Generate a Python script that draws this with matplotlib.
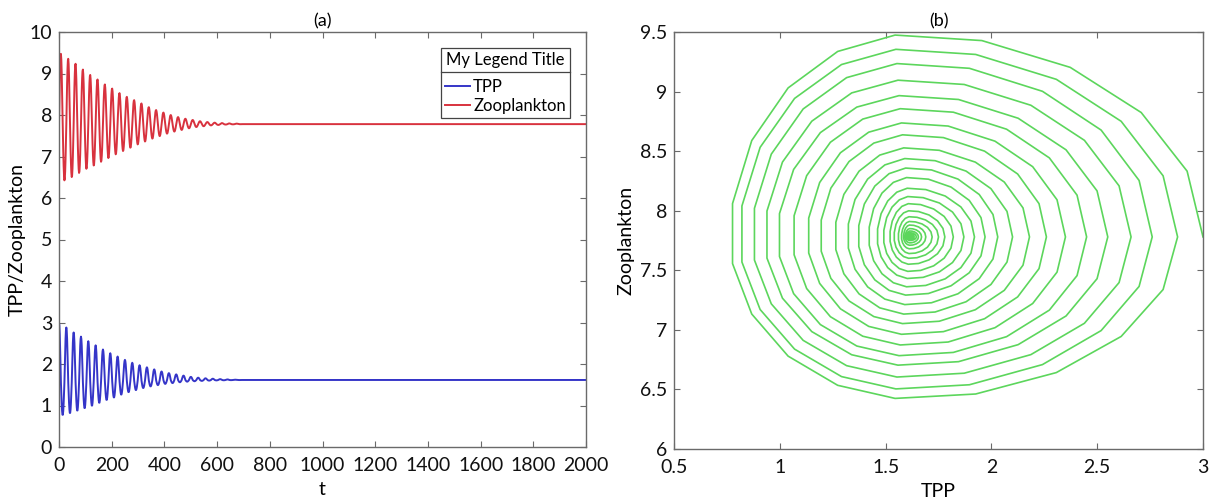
import numpy as np
import matplotlib
matplotlib.use('Agg')
import matplotlib.pyplot as plt
from matplotlib.lines import Line2D
from matplotlib.ticker import FormatStrFormatter

plt.rcParams['font.family'] = ['Lato', 'DejaVu Sans']

# Values.
# Oscillation period (time units) and equilibrium levels.
period = 27.8
t_end = 2000
tpp_eq = 1.615
zoo_eq = 7.78

# Extremes of each cycle (TPP maxima has one extra entry: start of the next cycle)
tpp_peaks = [3.0, 2.88, 2.76, 2.66, 2.55, 2.45, 2.35, 2.26, 2.18, 2.10, 2.03, 1.97, 1.92,
             1.87, 1.82, 1.78, 1.75, 1.72, 1.69, 1.67, 1.655, 1.645, 1.635, 1.628, 1.622, 1.618]
tpp_troughs = [0.765, 0.81, 0.87, 0.93, 0.99, 1.06, 1.13, 1.19, 1.26, 1.32, 1.37, 1.42, 1.46,
               1.49, 1.52, 1.54, 1.56, 1.575, 1.585, 1.593, 1.60, 1.605, 1.608, 1.611, 1.613]
zoo_peaks = [9.48, 9.36, 9.24, 9.10, 8.97, 8.86, 8.74, 8.64, 8.53, 8.44, 8.36, 8.28, 8.19,
             8.12, 8.06, 8.00, 7.95, 7.91, 7.88, 7.85, 7.83, 7.815, 7.805, 7.797, 7.792]
zoo_troughs = [6.42, 6.50, 6.60, 6.70, 6.78, 6.87, 6.96, 7.05, 7.13, 7.21, 7.29, 7.36, 7.43,
               7.49, 7.55, 7.60, 7.64, 7.68, 7.71, 7.73, 7.75, 7.76, 7.77, 7.775, 7.778]

# samples per cycle of the solver output (vertices visible in the phase plot)
steps = 19

# Build the trajectory cycle by cycle from the read extremes
t, tpp, zoo = [], [], []
for k in range(len(zoo_peaks)):
    for j in range(steps):
        th = 2 * np.pi * j / steps
        c, s = np.cos(th), np.sin(th)
        if c >= 0:
            a = (tpp_peaks[k] if th < np.pi else tpp_peaks[k + 1]) - tpp_eq
        else:
            a = tpp_eq - tpp_troughs[k]
        b = zoo_peaks[k] - zoo_eq if s >= 0 else zoo_eq - zoo_troughs[k]
        t.append((k + j / steps) * period)
        tpp.append(tpp_eq + a * c)
        zoo.append(zoo_eq + b * s)
t += [len(zoo_peaks) * period, t_end]
tpp += [tpp_eq, tpp_eq]
zoo += [zoo_eq, zoo_eq]

fig = plt.figure(figsize=(12.12, 5.01), dpi=100)
ax1 = fig.add_axes([59 / 1212, 54 / 501, 527 / 1212, 415 / 501])
ax2 = fig.add_axes([674 / 1212, 52 / 501, 529 / 1212, 417 / 501])

spine_c = '#6a6a6a'
for ax in (ax1, ax2):
    for sp in ax.spines.values():
        sp.set_color(spine_c)
        sp.set_linewidth(1.0)
    ax.tick_params(direction='in', top=True, right=True, length=4, width=0.8,
                   color=spine_c, labelsize=14, labelcolor='#111111', pad=5)
    ax.tick_params(axis='x', pad=7)

# (a) time series
ax1.plot(t, tpp, color='#3535c8', lw=1.4, label='TPP')
ax1.plot(t, zoo, color='#d8323e', lw=1.4, label='Zooplankton')
ax1.set_xlim(0, 2000)
ax1.set_ylim(0, 10)
ax1.set_xticks(np.arange(0, 2001, 200))
ax1.set_yticks(np.arange(0, 11, 1))
ax1.set_xlabel('t', fontsize=14, labelpad=5)
ax1.set_ylabel('TPP/Zooplankton', fontsize=14, labelpad=3)
ax1.set_title('(a)', fontsize=13, pad=4)

leg = ax1.legend(title='My Legend Title', loc='upper right',
                 bbox_to_anchor=(0.9696, 0.9614), borderaxespad=0,
                 fancybox=False, edgecolor='#444444', framealpha=1,
                 fontsize=12, title_fontsize=12, handlelength=1.5,
                 handletextpad=0.2, labelspacing=0.15, borderpad=0.25)
leg.get_frame().set_linewidth(0.9)
leg._legend_box.sep = 8

# (b) phase plane
ax2.plot(tpp, zoo, color='#5cd65c', lw=1.2)
ax2.set_xlim(0.5, 3)
ax2.set_ylim(6, 9.5)
ax2.set_xticks(np.arange(0.5, 3.01, 0.5))
ax2.set_yticks(np.arange(6, 9.51, 0.5))
ax2.xaxis.set_major_formatter(FormatStrFormatter('%g'))
ax2.yaxis.set_major_formatter(FormatStrFormatter('%g'))
ax2.set_xlabel('TPP', fontsize=14, labelpad=5)
ax2.set_ylabel('Zooplankton', fontsize=14, labelpad=4)
ax2.set_title('(b)', fontsize=13, pad=4)

# separator line under the legend title, like MATLAB draws it
fig.canvas.draw()
fb = leg.get_frame().get_window_extent()
tb = leg.get_title().get_window_extent()
y = tb.y0 - 4
inv = fig.transFigure.inverted()
(x0, yy), (x1, _) = inv.transform([(fb.x0, y), (fb.x1, y)])
fig.add_artist(Line2D([x0, x1], [yy, yy], transform=fig.transFigure,
                      color='#444444', lw=0.9))

fig.savefig('out.png', dpi=100)
